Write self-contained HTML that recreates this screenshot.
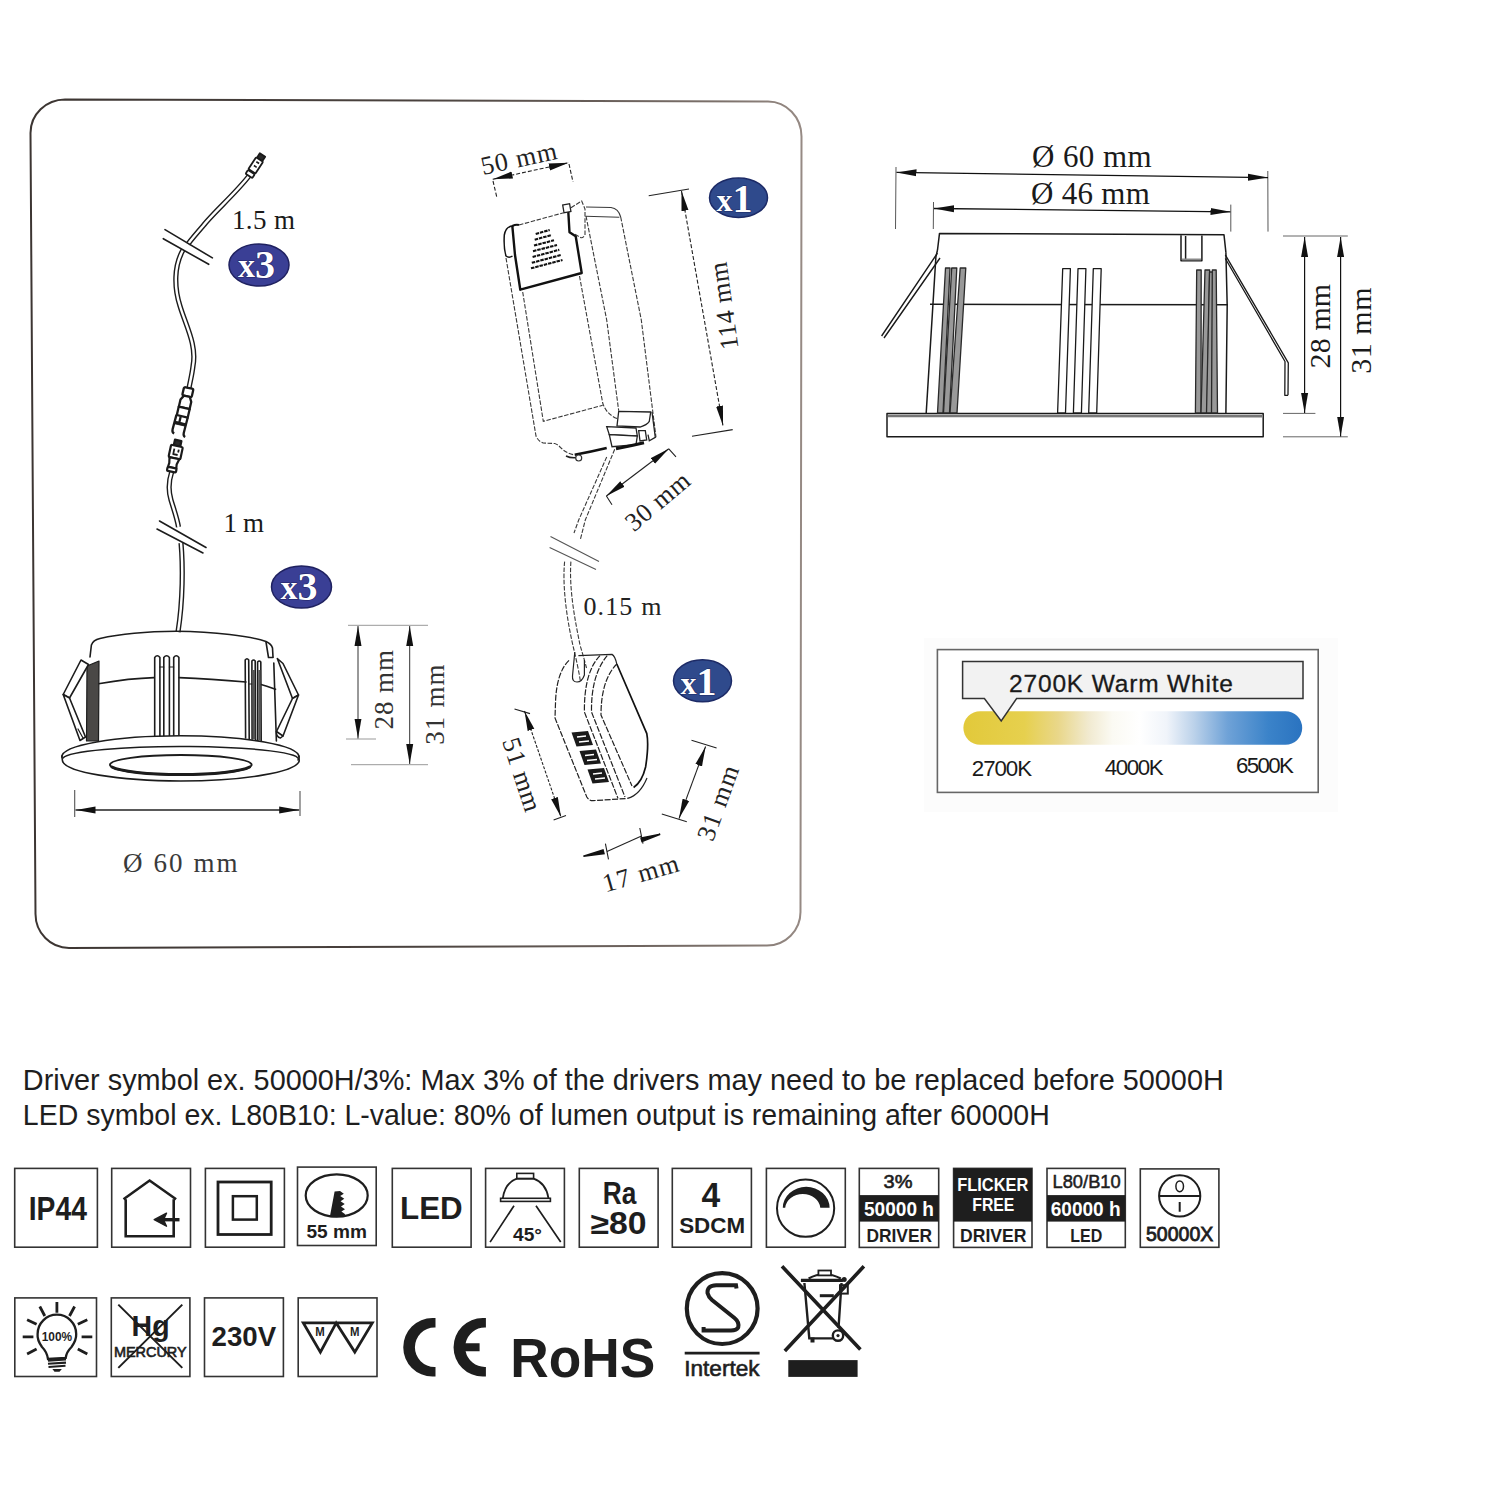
<!DOCTYPE html>
<html><head><meta charset="utf-8">
<style>
html,body{margin:0;padding:0;background:#fff;width:1500px;height:1500px;overflow:hidden}
svg{display:block}
.s{font-family:"Liberation Serif",serif}
.a{font-family:"Liberation Sans",sans-serif}
.k{stroke:#1c1c1c;fill:none;stroke-width:1.6;stroke-linejoin:round;stroke-linecap:round}
.g{stroke:#555;fill:none;stroke-width:1.1}
.d{stroke:#3a3a3a;fill:none;stroke-width:1.1;stroke-dasharray:4.5 1.6}
.ib{fill:#fff;stroke:#2a2a2a;stroke-width:1.6}
</style></head><body>
<svg width="1500" height="1500" viewBox="0 0 1500 1500">
<defs>
<marker id="ar" viewBox="0 0 20 8" refX="20" refY="4" markerWidth="20" markerHeight="8" markerUnits="userSpaceOnUse" orient="auto-start-reverse"><path d="M0,0.5 L20,4 L0,7.5 Z" fill="#111"/></marker>
<marker id="ar2" viewBox="0 0 18 7" refX="18" refY="3.5" markerWidth="18" markerHeight="7" markerUnits="userSpaceOnUse" orient="auto-start-reverse"><path d="M0,0 L18,3.5 L0,7 Z" fill="#111"/></marker>
<linearGradient id="fg" gradientUnits="userSpaceOnUse" x1="30" y1="0" x2="802" y2="0"><stop offset="0" stop-color="#3c3532"/><stop offset="0.5" stop-color="#4a423e"/><stop offset="0.9" stop-color="#7d726c"/><stop offset="1" stop-color="#968a84"/></linearGradient>
<linearGradient id="cg" x1="0" x2="1" y1="0" y2="0">
<stop offset="0" stop-color="#e2c93a"/><stop offset="0.18" stop-color="#e6d04e"/><stop offset="0.28" stop-color="#e9d78a"/><stop offset="0.37" stop-color="#f1ead0"/><stop offset="0.44" stop-color="#fbfaf3"/><stop offset="0.52" stop-color="#ffffff"/><stop offset="0.6" stop-color="#f0f4fa"/><stop offset="0.68" stop-color="#bcd2ea"/><stop offset="0.78" stop-color="#6fa2d7"/><stop offset="0.9" stop-color="#3b83c9"/><stop offset="1" stop-color="#2a73c0"/>
</linearGradient>
</defs>
<rect width="1500" height="1500" fill="#fff"/>

<!-- FRAME -->
<path d="M65,99.5 L768,101.5 A33.5,35 0 0 1 801.5,136.5 L800.5,912 A33.5,33.5 0 0 1 767,945.5 L69,948 A33.5,34 0 0 1 35.5,914 L30.5,133 A34.5,33.5 0 0 1 65,99.5 Z" fill="none" stroke="url(#fg)" stroke-width="2"/>

<!-- ============ LEFT CABLE ============ -->
<g id="cable">
<!-- double-line cable via thick dark + thin white -->
<path d="M249,176 C235,194 212,214 203,226 C196,234 191,240 188,244" stroke="#1c1c1c" stroke-width="5.2" fill="none"/>
<path d="M249,176 C235,194 212,214 203,226 C196,234 191,240 188,244" stroke="#fff" stroke-width="2.4" fill="none"/>
<path d="M183,250 C174,266 174,287 180,306 C186,326 197,345 193,366 C192,375 190,382 189,388" stroke="#1c1c1c" stroke-width="5.2" fill="none"/>
<path d="M183,250 C174,266 174,287 180,306 C186,326 197,345 193,366 C192,375 190,382 189,388" stroke="#fff" stroke-width="2.4" fill="none"/>
<path d="M171.8,471.5 C169,480 168,490 171,500 C174,510 177,518 178.5,527" stroke="#1c1c1c" stroke-width="5.2" fill="none"/>
<path d="M171.8,471.5 C169,480 168,490 171,500 C174,510 177,518 178.5,527" stroke="#fff" stroke-width="2.4" fill="none"/>
<path d="M181,543 C183,565 183,600 178,632" stroke="#1c1c1c" stroke-width="5.2" fill="none"/>
<path d="M181,543 C183,565 183,600 178,632" stroke="#fff" stroke-width="2.4" fill="none"/>
<!-- break marks -->
<path d="M165,229.6 L212.4,257.9 M163.3,238.7 L208.7,264.3" class="k" stroke-width="1.5"/>
<path d="M159.5,521 L206,547.5 M157,529 L203,553" class="k" stroke-width="1.5"/>
<!-- female connector -->
<g transform="translate(188.8,388) rotate(13)" fill="#fff" stroke="#1a1a1a" stroke-width="2.3" stroke-linejoin="round">
<rect x="-4.8" y="0" width="9.6" height="8.5" rx="1.5"/>
<path d="M-3,8.5 L3,8.5 L5.5,13 L5.5,20.5 L-5.5,20.5 L-5.5,13 Z"/>
<rect x="-5.6" y="20.5" width="11.2" height="8.5"/>
<path d="M-6,29 L-6.5,44 Q-6.5,47 -4,47.5 M5.6,29 L5.2,45 Q5.2,48 7.5,48.5 M-6.2,36.5 L5.4,36.5 M-1.5,29.5 L-1.5,36" fill="none"/>
<path d="M-6.2,35.5 L5.4,35.5 L5.4,38 L-6.2,38 Z" fill="#1a1a1a" stroke-width="0.8"/>
</g>
<!-- male connector 2 -->
<g transform="translate(178.2,440.3) rotate(12)" fill="#fff" stroke="#1a1a1a" stroke-width="2.2" stroke-linejoin="round">
<rect x="-3.3" y="0" width="6.6" height="5.8" fill="#2a2a2a"/>
<rect x="-6" y="5.8" width="12" height="12.5" rx="1.2"/>
<path d="M-2,9 L-2,14.5 L2.5,14.5 M2.5,9 L2.5,12" fill="none" stroke-width="1.8"/>
<path d="M-5,18.3 L5,18.3 L3.5,24 L4,28 L-4.5,28 L-4,24 Z"/>
<rect x="-4.8" y="28" width="9.2" height="4" rx="1"/>
</g>
<!-- top male connector -->
<g transform="translate(262.5,155) rotate(33)" fill="#fff" stroke="#1a1a1a" stroke-width="1.8" stroke-linejoin="round">
<rect x="-3.2" y="0" width="6.4" height="5.5" fill="#2a2a2a"/>
<rect x="-4.2" y="5.5" width="8.4" height="14" rx="1"/>
<path d="M-1.5,9 L1.8,9 M-1.5,13.5 L1.8,13.5" fill="none" stroke-width="1.6"/>
<rect x="-4" y="20.5" width="8" height="4.5" rx="1"/>
</g>
</g>
<text class="s" x="232" y="228.5" font-size="27" textLength="63" fill="#1a1a1a">1.5 m</text>
<text class="s" x="223.5" y="532" font-size="27" textLength="40.5" fill="#1a1a1a">1 m</text>


<!-- ============ LEFT LAMP ============ -->
<g id="lamp" class="k" stroke-width="1.7">
<path d="M90,657 L91.4,645 Q93,640 100,638.5 C120,634 150,631.5 176,631.3 C215,631.8 250,636 266,641.5 Q271.5,644 272.5,648 L273,657"/>
<path d="M266,642 L268.5,657.5 L273,657.5"/>
<path d="M273.8,663 L276.4,741"/>
<path d="M98.5,683.7 C120,680 140,678 154,677.6 M179,677.6 C205,678.5 230,680.5 246,682 M261,684.5 C267,686 272,688 275.5,689.3"/>
<path d="M154.7,736 L154.7,657.5 Q157.3,654 159.9,657.5 L159.9,736 M163.8,736 L163.8,657.5 Q166.6,654 169.4,657.5 L169.4,736 M173.7,736 L173.7,657.5 Q176.3,654 178.9,657.5 L178.9,736"/>
<path d="M159.9,667 L163.8,667 M169.4,667 L173.7,667" stroke-width="1.2"/>
<path d="M245.6,738 L245.2,660 Q247,657.5 248.7,660 L249.2,739 M252.1,739 L251.9,661 Q253.6,659 255.2,661 L255.6,740 M257.8,740 L257.6,662 Q259.3,660 260.8,662 L261.2,741"/>
<path d="M249.5,684 L252,684" stroke-width="1"/>
<polygon points="87,666 99,661 98.5,741 86.5,741" fill="#4a4846" stroke-width="1.2"/>
<polygon points="252.6,670 255,670 255.3,739 252.8,739" fill="#555" stroke="none"/>
<polygon points="258.3,670 260.5,670 260.8,740 258.5,740" fill="#555" stroke="none"/>
<!-- left clip -->
<path d="M81,660 L88.5,664.5 L69.5,698 L63.2,694.5 Z" fill="#fff"/>
<path d="M63.2,694.5 L69.5,698 L85.5,737 L80,740.5 Z" fill="#fff"/>
<path d="M78,729 L83,738" stroke-width="1.2"/>
<!-- right clip -->
<path d="M277.3,658.5 L283,663.5 L298.5,695 L292.5,698.5 Z" fill="#fff"/>
<path d="M292.5,698.5 L298.5,695 L283,736 L276.5,731.5 Z" fill="#fff"/>
<path d="M276.5,731.5 Q276,737 280.5,738 L283,736" stroke-width="1.5"/>
<!-- flange -->
<path d="M61.8,757 A118.5,21.2 0 0 1 299,757" fill="#fff"/>
<path d="M63,758 A117.5,12.5 0 0 1 298,760" stroke-width="1.5"/>
<path d="M61.8,756 L62.5,761 A118.5,21 0 0 0 299.2,761 L299,756" fill="none"/>
<ellipse cx="180.8" cy="764.8" rx="70.8" ry="9.8" stroke-width="2"/>
<path d="M112,767 A70.8,9.8 0 0 0 249.6,767" stroke-width="3"/>
</g>
<!-- Ø60 dim -->
<path d="M74.7,790 L74.7,817 M300,791 L300,816" class="g" stroke="#222" stroke-width="1.5"/>
<line x1="75.5" y1="810" x2="299.2" y2="810" stroke="#222" stroke-width="1.3" marker-start="url(#ar)" marker-end="url(#ar)"/>
<text class="s" x="123" y="872" font-size="27" textLength="114.5" fill="#3a3a3a">Ø 60 mm</text>
<!-- 28 / 31 dims left -->
<path d="M348,625.3 L428,625.3 M346,739 L376,739 M351,764.7 L428,764.7" stroke="#999" stroke-width="1" fill="none"/>
<line x1="358" y1="626" x2="358" y2="738.5" stroke="#333" stroke-width="1" marker-start="url(#ar)" marker-end="url(#ar)"/>
<line x1="409.7" y1="626" x2="409.7" y2="764" stroke="#333" stroke-width="1" marker-start="url(#ar)" marker-end="url(#ar)"/>
<text class="s" transform="translate(392.5,729.5) rotate(-90)" font-size="27" textLength="79.5" fill="#333">28 mm</text>
<text class="s" transform="translate(443.5,744.8) rotate(-90)" font-size="27" textLength="80.4" fill="#333">31 mm</text>


<!-- ============ DRIVER ============ -->
<g id="driver">
<!-- body dashed outlines -->
<g class="d" stroke="#333" stroke-width="1.1">
<path d="M506,258 L536,436 Q538,441 543,443 L554.7,443.5 Q558,444.5 561,448 Q566,453 573.3,454.7"/>
<path d="M522.7,292 L543.3,421.3 L602.7,405.3"/>
<path d="M579.5,276 L602.7,403 Q606,414 617.3,418.7"/>
<path d="M586,216 L606.7,320 L618.7,410.7"/>
<path d="M620.7,217 L641.3,320 L656,437.3"/>
<path d="M585.5,216.3 L619.3,217.3" stroke-dasharray="none"/>
<path d="M586,207 L611,207.5 Q618.5,208.5 620.7,217" stroke-dasharray="none"/>
</g>
<!-- label cover -->
<path d="M519,225 L563.7,212.7" class="d" stroke="#222" stroke-width="1.5"/>
<path d="M512.3,225.7 L515,255 L520.3,289.7 L581.7,273 L575.7,236.3 L569.5,232.3 L568.3,211.7" fill="none" stroke="#111" stroke-width="2.4" stroke-linejoin="round"/>
<path d="M513,226 Q506,226 504.3,235 Q503.5,248 506,256 Q509,258.5 512.5,256" fill="none" stroke="#111" stroke-width="1.5"/>
<path d="M512.3,226 Q516,224 519,225" fill="none" stroke="#111" stroke-width="2"/>
<rect x="563.3" y="204.3" width="7" height="7.8" fill="#fff" stroke="#222" stroke-width="1.3" transform="rotate(-10 566.8 208.2)"/>
<path d="M571,207.7 L581.7,201 L585,209 L585,235 Q583,238 581,237.7 L575,234.3" class="d" stroke="#333" stroke-width="1.2"/>
<g stroke="#111" stroke-width="2.1" stroke-dasharray="3.5 0.9" fill="none">
<path d="M535.7,234 L549.7,230"/>
<path d="M534.7,239.7 L551.7,235"/>
<path d="M534,245.5 L554,240.3"/>
<path d="M533,251.2 L557,245"/>
<path d="M532.6,257 L559.3,249.8"/>
<path d="M531.8,262.8 L561,255"/>
<path d="M531,268.3 L562.5,260"/>
</g>
<!-- bottom connector parts -->
<g fill="#fff" stroke="#222" stroke-width="1.3">
<path d="M618.7,411.3 L650.7,412 L649.3,421.3 Q647,425 640,427 L617,426 Z"/>
<path d="M606.7,426.7 L636,428 L637.3,436 L609.3,434.7 Z"/>
<path d="M609.3,434.7 L637.3,436 L636,444.7 L612,446.7 Z"/>
<path d="M638.7,430.7 L645.3,430.7 L646.7,440 L640,441 Z"/>
<path d="M652,412 L655.3,437.3 L649.3,440.7 L648,434.7"/>
</g>
<path d="M574.7,454.7 Q590,452 606.7,448" fill="none" stroke="#111" stroke-width="2.6"/>
<path d="M616,448.7 Q630,446 644,442.7" fill="none" stroke="#111" stroke-width="3"/>
<path d="M566,456 Q572,459 580,457" fill="none" stroke="#222" stroke-width="1.6"/>
<circle cx="578.7" cy="458" r="3" fill="#fff" stroke="#333" stroke-width="1.2"/>
<!-- output cable -->
<g class="d" stroke="#444" stroke-width="1.1">
<path d="M606.7,457 L578.7,520 L574,533"/>
<path d="M614.7,449.3 L585.3,520 L580.3,539.7"/>
<path d="M564.6,561.6 C562,590 568,625 574,650 C577,663 579,672 580.3,680.7"/>
<path d="M570.9,561.6 C569,590 575,620 580,645 C583,655 585,662 586.5,668"/>
</g>
<path d="M550.5,536.5 L599,561.6 M549.6,547.5 L596,569.5" stroke="#555" stroke-width="1.1" fill="none"/>
</g>
<!-- driver dims -->
<g stroke="#222" stroke-width="1.1" fill="none">
<path d="M493,181 L497,198 M569,164 L573,182" stroke-dasharray="4 2"/>
<line x1="492.7" y1="179.3" x2="568.7" y2="162.7" stroke-dasharray="4 2" marker-start="url(#ar)" marker-end="url(#ar)"/>
<path d="M648.7,195.7 L689,189 M692,436.3 L732.7,429.6"/>
<line x1="681.5" y1="191" x2="723" y2="425.7" stroke-dasharray="4 2" marker-start="url(#ar)" marker-end="url(#ar)"/>
<path d="M606.4,496 L612,504.8 M668.8,448.8 L676,456.8"/>
<line x1="606.4" y1="496" x2="668.8" y2="448.8" marker-start="url(#ar)" marker-end="url(#ar)"/>
</g>
<g class="s" fill="#222" font-size="26">
<text transform="translate(520.6,166.8) rotate(-12.4)" text-anchor="middle" textLength="77">50 mm</text>
<text transform="translate(732.5,304.8) rotate(-98)" text-anchor="middle" textLength="88">114 mm</text>
<text transform="translate(663,508) rotate(-40)" text-anchor="middle" textLength="76">30 mm</text>
<text x="583.4" y="614.9" textLength="78">0.15 m</text>
</g>


<!-- ============ JUNCTION BOX ============ -->
<g id="jbox" fill="none" stroke="#222" stroke-width="1.2">
<path d="M569,660.4 Q557,672 555.6,700 L555,718 L586.8,797 Q589,800.7 593,800.7 L627.6,798.4" stroke-dasharray="6 1.5"/>
<path d="M578.4,655.6 L612,654.4 Q615,656 616.8,664"/>
<path d="M616.8,664 L646.8,733.6 Q649,745 645.6,767 Q642,782 633.6,787.5" stroke="#111" stroke-width="1.7"/>
<path d="M600,655.6 Q584,672 584.4,712 L618,798.4" stroke-dasharray="6 1.5"/>
<path d="M607.2,655.6 Q591,675 591.5,712 L625,797" stroke-dasharray="6 1.5"/>
<path d="M616.8,664 Q601,680 601,715 L632,786" stroke-dasharray="6 1.5"/>
<path d="M627.6,798.4 Q640,795 647,778"/>
<!-- cable entry loop -->
<path d="M574.8,652 L572.5,676 Q572,682 577,682 Q582,682 584.4,675 L584.4,660" stroke-width="1.2"/>
</g>
<g id="terms" fill="#1a1a1a">
<polygon points="571.5,732.4 588,731 593,745 576.5,746.5"/>
<polygon points="579.5,751 596,749.5 601,763.5 584.5,765"/>
<polygon points="587.5,769.5 604,768 609,782 592.5,783.5"/>
</g>
<g fill="none" stroke="#fff" stroke-width="1.6">
<path d="M577,737 L586,736 M579,742 L589,741 M585,755.5 L594,754.5 M587,760.5 L597,759.5 M593,774 L602,773 M595,779 L605,778"/>
</g>
<!-- jbox dims -->
<g stroke="#222" stroke-width="1.1" fill="none">
<path d="M514.5,709 L530,713.6 M553.6,820 L566,815.5"/>
<line x1="524.5" y1="711" x2="561" y2="817" stroke-dasharray="3 1.5" marker-start="url(#ar)" marker-end="url(#ar)"/>
<path d="M691.5,740.2 L716.6,748 M661.8,813.9 L686.8,821.7"/>
<line x1="679" y1="818.6" x2="705.6" y2="746.5" marker-start="url(#ar)" marker-end="url(#ar)"/>
<path d="M605.4,843.7 L608.5,859.3 M639.8,828 L643,843.7"/>
<line x1="607" y1="851.5" x2="641.5" y2="836" />
</g>
<path d="M583.4,856.2 L603,850 L604,853.6 Z M660.2,834.3 L641,838 L642,841.6 Z" fill="#111" stroke="#111" stroke-width="1.5"/>
<g class="s" fill="#222" font-size="26">
<text transform="translate(513.8,777.2) rotate(72)" text-anchor="middle" textLength="76">51 mm</text>
<text transform="translate(726.2,805.9) rotate(-70)" text-anchor="middle" textLength="78">31 mm</text>
<text transform="translate(643,881.7) rotate(-16)" text-anchor="middle" textLength="78">17 mm</text>
</g>


<!-- ============ SIDE VIEW ============ -->
<g id="side">
<!-- dims -->
<path d="M896,167 L895.5,229 M933.5,202 L933.3,229 M1267.8,171 L1268,231.6 M1230.8,204.6 L1230.8,231.6" stroke="#444" stroke-width="0.9" fill="none"/>
<line x1="896.5" y1="172.4" x2="1268" y2="177.6" stroke="#111" stroke-width="1.3" marker-start="url(#ar)" marker-end="url(#ar)"/>
<line x1="934" y1="208.5" x2="1230.5" y2="211.8" stroke="#111" stroke-width="1.3" marker-start="url(#ar)" marker-end="url(#ar)"/>
<g class="s" fill="#1a1a1a" font-size="31">
<text x="1032" y="166.8" textLength="119.6">Ø 60 mm</text>
<text x="1031" y="203.6" textLength="118.8">Ø 46 mm</text>
</g>
<g fill="none" stroke="#1a1a1a" stroke-width="1.5" stroke-linejoin="round">
<!-- body -->
<path d="M937.5,250 L939.5,233.4 L1224,234.8 L1225.9,252.3"/>
<path d="M937.5,250 L935.9,256.8 L926.2,413"/>
<path d="M1225.9,252.3 L1227.2,305.6 L1225.9,413"/>
<path d="M930,304.3 L1228,304.8"/>
<path d="M1181,235.2 L1181,260.8 L1201.9,260.8 L1201.9,235.5 M1185.6,236 L1185.6,259"/><path d="M1182,259.5 L1201,259.5" stroke="#888" stroke-width="2"/>
<!-- flange -->
<rect x="887" y="413.4" width="376.2" height="23.4" fill="#fff"/>
<path d="M888,416 L1262,416.2" stroke="#777" stroke-width="2.5"/>
<!-- clips -->
<path d="M937.4,253.2 L881.6,336 M940,258 L884,338" stroke-width="1.4"/>
<path d="M1225.3,254.9 L1288.3,362.8 L1288,395.3 M1225.3,258.5 L1285,361.5 L1284.8,395.3 L1288,395.3" stroke-width="1.3"/>
</g>
<!-- ribs -->
<g fill="#999" stroke="#2a2a2a" stroke-width="1.3" stroke-linejoin="round">
<path d="M937.5,413 L945.5,268 L950,268 L943,413 Z"/>
<path d="M943.5,413 L951.7,268 L956.8,268 L949.5,413 Z"/>
<path d="M950,413 L960.2,268 L965.8,268 L957,413 Z"/>
<path d="M1195.4,413 L1196.7,270 L1201.2,270 L1201,413 Z"/>
<path d="M1201,413 L1205,270 L1209.7,270 L1207,413 Z"/>
<path d="M1206.5,413 L1209.5,272 L1213,272 L1212,413 Z"/>
<path d="M1211.5,413 L1212.3,270 L1216.2,270 L1217.5,413 Z"/>
</g>
<g fill="#fff" stroke="#1a1a1a" stroke-width="1.3" stroke-linejoin="round">
<path d="M1057.6,413 L1062.7,268.7 L1070.4,268.7 L1065.5,413 Z"/>
<path d="M1073.4,413 L1078,268.7 L1085.9,268.7 L1081.4,413 Z"/>
<path d="M1088.7,413 L1093.3,268.7 L1101.2,268.7 L1096.7,413 Z"/>
</g>
<!-- height dims -->
<path d="M1283,236 L1347.8,236 M1283,413.4 L1315.4,413.4 M1283,436.8 L1347.8,436.8" stroke="#555" stroke-width="0.9" fill="none"/>
<line x1="1304.6" y1="237" x2="1304.6" y2="413" stroke="#111" stroke-width="1.2" marker-start="url(#ar)" marker-end="url(#ar)"/>
<line x1="1340.6" y1="237" x2="1340.6" y2="436.5" stroke="#111" stroke-width="1.2" marker-start="url(#ar)" marker-end="url(#ar)"/>
<g class="s" fill="#1a1a1a" font-size="30">
<text transform="translate(1329.5,368.4) rotate(-90)" textLength="84.6">28 mm</text>
<text transform="translate(1371,373.8) rotate(-90)" textLength="86.4">31 mm</text>
</g>
</g>

<!-- ============ COLOR TEMP ============ -->
<g id="ctemp">
<rect x="924" y="638" width="414" height="174" fill="#fcfcfc"/>
<rect x="937.4" y="649.6" width="380.8" height="142.8" fill="#fff" stroke="#666" stroke-width="1.6"/>
<rect x="963.4" y="711.2" width="338.8" height="33.6" rx="16.8" fill="url(#cg)"/>
<path d="M962.6,661.6 L1303,661.6 L1303,698.6 L1016.6,698.6 L1001.2,721 L984.4,698.6 L962.6,698.6 Z" fill="#f2f2f2" stroke="#333" stroke-width="1.5"/>
<g class="a" fill="#1a1a1a">
<text x="1009" y="691.6" font-size="24.5" textLength="224" stroke="#1a1a1a" stroke-width="0.3">2700K Warm White</text>
<text x="971.8" y="775.6" font-size="22.3" textLength="60.2">2700K</text>
<text x="1104.8" y="775" font-size="22.3" textLength="58.8">4000K</text>
<text x="1235.9" y="772.8" font-size="22.3" textLength="57.9">6500K</text>
</g>
</g>


<!-- ============ BOTTOM TEXT ============ -->
<g class="a" fill="#1e1e1e" font-size="28.6">
<text x="22.8" y="1089.6" textLength="1201" lengthAdjust="spacingAndGlyphs">Driver symbol ex. 50000H/3%: Max 3% of the drivers may need to be replaced before 50000H</text>
<text x="22.8" y="1124.7" textLength="1027" lengthAdjust="spacingAndGlyphs">LED symbol ex. L80B10: L-value: 80% of lumen output is remaining after 60000H</text>
</g>

<!-- ============ ICON ROW 1 ============ -->
<g id="row1">
<g fill="#fff" stroke="#333" stroke-width="1.6">
<rect x="14.7" y="1168.4" width="82.7" height="78.8"/>
<rect x="111.7" y="1168.4" width="78.8" height="78.8"/>
<rect x="205.4" y="1168.4" width="79" height="78.8"/>
<rect x="297.5" y="1167.1" width="78.7" height="78.4"/>
<rect x="392.3" y="1168.4" width="78.8" height="78.8"/>
<rect x="485.6" y="1168.4" width="78.8" height="78.8"/>
<rect x="579.3" y="1168.4" width="78.8" height="78.8"/>
<rect x="672.3" y="1168.4" width="79.1" height="78.8"/>
<rect x="766.4" y="1168.4" width="78.9" height="78.8"/>
<rect x="859.3" y="1168.4" width="79.4" height="79"/>
<rect x="953.6" y="1168.4" width="78.4" height="79" />
<rect x="1047" y="1168.4" width="78.3" height="79"/>
<rect x="1140.3" y="1168.9" width="78.6" height="78.4"/>
</g>
<!-- black bands -->
<rect x="859.3" y="1195.1" width="79.4" height="26.5" fill="#1e1e1e"/>
<rect x="953.6" y="1168.4" width="78.4" height="53.2" fill="#1e1e1e"/>
<rect x="1047" y="1195.1" width="78.3" height="26.5" fill="#1e1e1e"/>
<g class="a" font-weight="bold" fill="#1e1e1e">
<text x="28.7" y="1219.7" font-size="32.5" textLength="58.2" lengthAdjust="spacingAndGlyphs">IP44</text>
<text x="400.1" y="1219.4" font-size="32" textLength="62.6" lengthAdjust="spacingAndGlyphs">LED</text>
<text x="306.4" y="1237.5" font-size="19" textLength="60.5" lengthAdjust="spacingAndGlyphs">55 mm</text>
<text x="513" y="1240.6" font-size="18" textLength="29" lengthAdjust="spacingAndGlyphs">45°</text>
<text x="602.7" y="1204.4" font-size="32" textLength="33.6" lengthAdjust="spacingAndGlyphs">Ra</text>
<text x="590.5" y="1234.3" font-size="30.5" textLength="56" lengthAdjust="spacingAndGlyphs">≥80</text>
<text x="701.6" y="1206.7" font-size="35" textLength="18.7" lengthAdjust="spacingAndGlyphs">4</text>
<text x="679.2" y="1233.2" font-size="22.5" textLength="65.9" lengthAdjust="spacingAndGlyphs">SDCM</text>
<text x="883.6" y="1188.4" font-size="18" textLength="28.9" lengthAdjust="spacingAndGlyphs" font-weight="normal" stroke="#1e1e1e" stroke-width="0.6">3%</text>
<text x="864" y="1216.4" font-size="21" textLength="70" lengthAdjust="spacingAndGlyphs" fill="#fff">50000 h</text>
<text x="866.4" y="1241.8" font-size="19" textLength="65.7" lengthAdjust="spacingAndGlyphs">DRIVER</text>
<text x="957.3" y="1191.4" font-size="18.5" textLength="71" lengthAdjust="spacingAndGlyphs" fill="#fff">FLICKER</text>
<text x="972.3" y="1211.3" font-size="18.5" textLength="42" lengthAdjust="spacingAndGlyphs" fill="#fff">FREE</text>
<text x="960.1" y="1241.8" font-size="19" textLength="66.3" lengthAdjust="spacingAndGlyphs">DRIVER</text>
<text x="1050.7" y="1216.4" font-size="21" textLength="70" lengthAdjust="spacingAndGlyphs" fill="#fff">60000 h</text>
<text x="1070.3" y="1241.8" font-size="19" textLength="32.1" lengthAdjust="spacingAndGlyphs">LED</text>
<text x="1146" y="1241.2" font-size="19.6" textLength="67.3" lengthAdjust="spacingAndGlyphs" font-weight="normal" stroke="#1e1e1e" stroke-width="0.8">50000X</text>
</g>
<text class="a" x="1052.5" y="1187.8" font-size="17.5" textLength="68.2" lengthAdjust="spacingAndGlyphs" fill="#1e1e1e" stroke="#1e1e1e" stroke-width="0.5">L80/B10</text>
<!-- house -->
<path d="M123.5,1199.2 L149.6,1180.5 L176.1,1199.2 M125.7,1199.2 L125.7,1236.2 L173.7,1236.2 L173.7,1199.2" fill="none" stroke="#1e1e1e" stroke-width="2.6"/>
<path d="M179.5,1219.7 L162,1219.7" stroke="#1e1e1e" stroke-width="3.4" fill="none"/>
<path d="M154.2,1219.7 L166.5,1213.2 L163.5,1219.7 L166.5,1226.2 Z" fill="#1e1e1e" stroke="#1e1e1e" stroke-width="1.4" stroke-linejoin="round"/>
<!-- double square -->
<rect x="218" y="1182" width="53.2" height="52.5" fill="none" stroke="#1e1e1e" stroke-width="2.8"/>
<rect x="232.9" y="1196.2" width="23.9" height="23.4" fill="none" stroke="#1e1e1e" stroke-width="2.5"/>
<!-- 55mm cutout -->
<ellipse cx="336.7" cy="1195.5" rx="31" ry="21.2" fill="none" stroke="#1e1e1e" stroke-width="2.2"/>
<path d="M329.8,1217 L334.6,1191.5 L340,1191 L343.8,1193.8 L340.2,1196 L344.3,1198.8 L340.6,1201.2 L344.7,1204 L341,1206.4 L345,1209.2 L341.4,1211.6 L345.2,1214.2 L344,1216.3 Q336,1217.6 329.8,1217 Z" fill="#1e1e1e"/>
<!-- 45 deg lamp -->
<rect x="516.8" y="1173.4" width="16.8" height="5.3" fill="none" stroke="#1e1e1e" stroke-width="1.6"/>
<path d="M502.8,1198.3 Q505,1183 516.8,1178.7 L533.6,1178.7 Q546,1183 548.5,1198.3" fill="none" stroke="#1e1e1e" stroke-width="1.8"/>
<rect x="500.6" y="1198.3" width="49.8" height="3.1" fill="#fff" stroke="#1e1e1e" stroke-width="1.6"/>
<path d="M514,1205.7 L490.1,1242.1 M536,1205.7 L560.7,1242.1" stroke="#1e1e1e" stroke-width="1.7" fill="none"/>
<!-- dimmer -->
<circle cx="805.6" cy="1208.2" r="28.6" fill="none" stroke="#1e1e1e" stroke-width="2"/>
<path d="M782.8,1207.8 A23.4,21 0 0 1 829.6,1207.8 L820.3,1207.8 A17.6,14.8 0 0 0 785.2,1207.8 Z" fill="#1e1e1e"/>
<!-- on/off -->
<circle cx="1179.7" cy="1195.9" r="20.6" fill="none" stroke="#1e1e1e" stroke-width="2"/>
<path d="M1159.4,1195.9 L1200.2,1195.9 M1179.7,1202 L1179.7,1211.8" stroke="#1e1e1e" stroke-width="2" fill="none"/>
<ellipse cx="1179.7" cy="1186.3" rx="3.8" ry="5.4" fill="none" stroke="#1e1e1e" stroke-width="1.5"/>
</g>

<!-- ============ ICON ROW 2 ============ -->
<g id="row2">
<g fill="#fff" stroke="#333" stroke-width="1.6">
<rect x="14.8" y="1297.9" width="81.7" height="78.6"/>
<rect x="111.3" y="1297.9" width="78.6" height="78.6"/>
<rect x="204.5" y="1297.9" width="78.9" height="78.6"/>
<rect x="298.2" y="1297.9" width="78.8" height="78.6"/>
</g>
<!-- bulb -->
<g stroke="#1e1e1e" fill="none" stroke-width="2.3" stroke-linecap="butt">
<path d="M48,1359 Q47,1352 42,1347 Q37,1340 37.6,1334 A19.3,19.3 0 0 1 76.2,1334 Q76.5,1340 71.5,1347 Q66.5,1352 65.7,1357.8 Z"/>
<path d="M56.9,1302 L56.9,1312.8 M39.8,1306.5 L44.8,1316 M74.6,1306.5 L69.5,1316 M27.1,1319.8 L36.6,1324.2 M87.3,1319.8 L77.8,1324.2 M22.7,1336.9 L33.4,1336.9 M81.6,1336.9 L92.3,1336.9 M27.1,1354 L36.6,1348.9 M87.3,1354 L77.8,1348.9" stroke-width="2.8"/>
<path d="M48,1360.6 L66,1359.4 M48,1363.8 L66,1362.6 M48.5,1367 L65.5,1365.8" stroke-width="2.1"/>
</g>
<path d="M52.4,1369 L61.9,1369 L59.5,1371.8 L54.5,1371.8 Z" fill="#1e1e1e"/>
<text class="a" font-weight="bold" x="41.7" y="1340.7" font-size="12.5" textLength="30.4" lengthAdjust="spacingAndGlyphs" fill="#1e1e1e">100%</text>
<!-- Hg -->
<text class="a" font-weight="bold" x="131.6" y="1336.2" font-size="29" textLength="38" lengthAdjust="spacingAndGlyphs" fill="#1e1e1e">Hg</text>
<text class="a" x="113.9" y="1357.1" font-size="14" textLength="72.8" lengthAdjust="spacingAndGlyphs" fill="#1e1e1e" stroke="#1e1e1e" stroke-width="0.6">MERCURY</text>
<path d="M118.3,1304.6 L182.3,1367.9 M182.3,1304.6 L118.3,1367.9" stroke="#1e1e1e" stroke-width="2" fill="none"/>
<!-- 230V -->
<text class="a" font-weight="bold" x="211.5" y="1346.4" font-size="28.2" textLength="64.6" lengthAdjust="spacingAndGlyphs" fill="#1e1e1e">230V</text>
<!-- MM -->
<path d="M303.3,1322.9 L372.3,1322.9 L354.8,1352.1 L336.2,1322.9 L320.4,1352.1 Z" fill="none" stroke="#1e1e1e" stroke-width="2.8" stroke-linejoin="miter"/>
<g class="a" font-weight="bold" fill="#1e1e1e" font-size="13">
<text x="315.3" y="1335.6" textLength="9.5" lengthAdjust="spacingAndGlyphs">M</text>
<text x="350" y="1335.6" textLength="9.5" lengthAdjust="spacingAndGlyphs">M</text>
</g>
<!-- CE -->
<path d="M435.5,1318 L435.5,1327.5 L434.6,1327.5 A19.7,19.7 0 0 0 434.6,1366.9 L435.5,1366.9 L435.5,1376.5 L432.5,1376.5 A29.25,29.25 0 0 1 432.5,1318 Z" fill="#1e1e1e"/>
<path d="M485.9,1318 L485.9,1327.5 L485,1327.5 A19.7,19.7 0 0 0 465.6,1343.3 L479.6,1343.3 L479.6,1351.3 L465.6,1351.3 A19.7,19.7 0 0 0 485,1366.9 L485.9,1366.9 L485.9,1376.5 L482.8,1376.5 A29.25,29.25 0 0 1 482.8,1318 Z" fill="#1e1e1e"/>
<text class="a" font-weight="bold" x="510.2" y="1376.5" font-size="55.5" textLength="145" lengthAdjust="spacingAndGlyphs" fill="#1e1e1e">RoHS</text>
<!-- Intertek -->
<circle cx="722.2" cy="1308.6" r="35.4" fill="none" stroke="#1e1e1e" stroke-width="4.2"/>
<path d="M736.5,1288.5 L736,1285.2 L716.2,1285.2 Q707,1285.5 707.5,1293 Q708.5,1297 712,1300 L734.5,1318 Q739.5,1322 738.2,1327.5 Q736.5,1330.5 731,1330.5 L703.6,1330.5 L703.6,1327" fill="none" stroke="#1e1e1e" stroke-width="4"/>
<path d="M684.7,1353.1 L759.6,1353.1" stroke="#1e1e1e" stroke-width="2.6"/>
<text class="a" x="684.2" y="1376.2" font-size="22" textLength="75.4" lengthAdjust="spacingAndGlyphs" fill="#1e1e1e" stroke="#1e1e1e" stroke-width="0.6">Intertek</text>
<!-- WEEE -->
<g stroke="#1e1e1e" fill="none">
<path d="M782,1266.3 L860.4,1349.6 M863.9,1266.3 L784.8,1351" stroke-width="3.6"/>
<path d="M800.9,1280.3 L842.9,1280.3" stroke-width="3.2"/>
<path d="M808.6,1278.5 Q824,1270 840.8,1278.5" stroke-width="2.2"/>
<rect x="818.4" y="1270.5" width="12.6" height="4.9" stroke-width="1.8" fill="#fff"/>
<path d="M804.4,1283 L809.3,1338.4 L836,1338.4 M841.5,1283 L838.5,1328" stroke-width="2.4"/>
<path d="M819.8,1295.7 L833.8,1295.7" stroke-width="3"/>
<circle cx="838" cy="1335.6" r="5.2" stroke-width="2.4" fill="#fff"/>
<rect x="840" y="1285.2" width="7.8" height="8.4" stroke-width="2"/>
</g>
<circle cx="838" cy="1335.6" r="1.6" fill="#1e1e1e"/>
<circle cx="844.2" cy="1279.5" r="2.5" fill="#1e1e1e"/>
<rect x="810.5" y="1337.5" width="4" height="5" fill="#1e1e1e"/>
<rect x="788.3" y="1360.1" width="69.3" height="16.8" fill="#1e1e1e"/>
</g>

<!-- badges -->
<g id="badges">
<ellipse cx="259" cy="265" rx="30" ry="21" fill="#3a3f95" stroke="#1f2160" stroke-width="1.5"/>
<text class="s" x="238" y="277" font-size="34" font-weight="bold" fill="#fff" stroke="#1f2160" stroke-width="1.2" paint-order="stroke">x<tspan font-size="40" dy="1">3</tspan></text>
<ellipse cx="301.5" cy="587" rx="30" ry="21" fill="#3a3f95" stroke="#1f2160" stroke-width="1.5"/>
<text class="s" x="280.5" y="599" font-size="34" font-weight="bold" fill="#fff" stroke="#1f2160" stroke-width="1.2" paint-order="stroke">x<tspan font-size="40" dy="1">3</tspan></text>
<ellipse cx="738.5" cy="197.7" rx="29" ry="19.8" fill="#2f4a8c" stroke="#1c2a66" stroke-width="1.5"/>
<text class="s" x="716.5" y="211" font-size="32" font-weight="bold" fill="#fff" stroke="#1c2a66" stroke-width="1.2" paint-order="stroke">x<tspan font-size="40" dy="1">1</tspan></text>
<ellipse cx="702.5" cy="680.8" rx="29" ry="21" fill="#2f4a8c" stroke="#1c2a66" stroke-width="1.5"/>
<text class="s" x="680.5" y="694" font-size="32" font-weight="bold" fill="#fff" stroke="#1c2a66" stroke-width="1.2" paint-order="stroke">x<tspan font-size="40" dy="1">1</tspan></text>
</g>

</svg>
</body></html>
